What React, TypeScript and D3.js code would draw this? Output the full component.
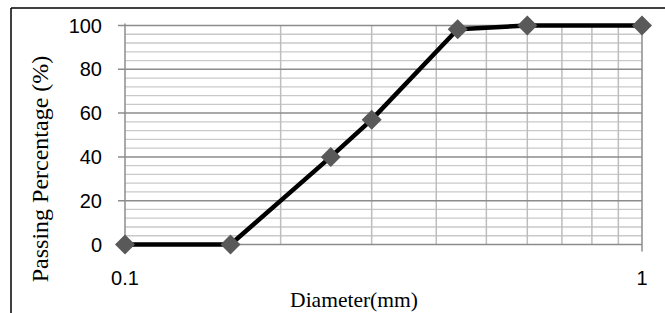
import { useEffect, useRef } from "react"
import * as d3 from "d3"

// Sieve analysis data
const diameters = [0.1, 0.16, 0.25, 0.3, 0.44, 0.6, 1]
const passing = [0, 0, 40, 57, 98.3, 100, 100]
const yTicks = [0, 20, 40, 60, 80, 100]
const xTickLabels = [0.1, 1]

export default function App() {
  const svgRef = useRef<SVGSVGElement>(null)

  useEffect(() => {
    if (!svgRef.current) return
    const W = 665
    const H = 313
    const margin = { top: 25.5, right: 23, bottom: 68.5, left: 125 }
    const width = W - margin.left - margin.right
    const height = H - margin.top - margin.bottom

    const root = d3.select(svgRef.current)
    root.selectAll("*").remove()
    root.attr("width", W).attr("height", H)

    // Outer frame (left and top edges only visible)
    root.append("line").attr("x1", 11).attr("x2", 11).attr("y1", 8).attr("y2", H).attr("stroke", "#000").attr("stroke-width", 1.5)
    root.append("line").attr("x1", 11).attr("x2", W).attr("y1", 8).attr("y2", 8).attr("stroke", "#000").attr("stroke-width", 1.5)

    const g = root.append("g").attr("transform", `translate(${margin.left},${margin.top})`)

    const x = d3.scaleLog().domain([0.1, 1]).range([0, width])
    const y = d3.scaleLinear().domain([0, 100]).range([height, 0])

    // Minor horizontal gridlines
    g.selectAll(".hminor")
      .data(d3.range(0, 101, 4).filter((v) => v % 20 !== 0))
      .join("line")
      .attr("x1", 0)
      .attr("x2", width)
      .attr("y1", (d) => y(d))
      .attr("y2", (d) => y(d))
      .attr("stroke", "#c9c9c9")
      .attr("stroke-width", 1.3)

    // Vertical gridlines
    g.selectAll(".vgrid")
      .data(x.ticks().filter((v) => v > 0.1 + 1e-9 && v < 1 - 1e-9))
      .join("line")
      .attr("x1", (d) => x(d))
      .attr("x2", (d) => x(d))
      .attr("y1", 0)
      .attr("y2", height)
      .attr("stroke", "#bdbdbd")
      .attr("stroke-width", 1.5)

    // Major horizontal gridlines
    g.selectAll(".hmajor")
      .data(yTicks.filter((v) => v > 0))
      .join("line")
      .attr("x1", -7)
      .attr("x2", width)
      .attr("y1", (d) => y(d))
      .attr("y2", (d) => y(d))
      .attr("stroke", "#8c8c8c")
      .attr("stroke-width", 1.5)

    // Axes lines
    g.append("line").attr("x1", -7).attr("x2", width).attr("y1", height).attr("y2", height).attr("stroke", "#8c8c8c").attr("stroke-width", 1.5)
    g.append("line").attr("x1", 0).attr("x2", 0).attr("y1", -2).attr("y2", height + 7).attr("stroke", "#8c8c8c").attr("stroke-width", 1.5)
    g.append("line").attr("x1", width).attr("x2", width).attr("y1", 0).attr("y2", height + 7).attr("stroke", "#8c8c8c").attr("stroke-width", 1.5)

    // Y tick labels
    g.selectAll(".ylab")
      .data(yTicks)
      .join("text")
      .attr("x", -23)
      .attr("y", (d) => y(d))
      .attr("text-anchor", "end")
      .attr("dominant-baseline", "central")
      .style("font-family", "'Liberation Sans', Arial, sans-serif")
      .style("font-size", "20px")
      .attr("fill", "#000")
      .text((d) => d)

    // X tick labels
    g.selectAll(".xlab")
      .data(xTickLabels)
      .join("text")
      .attr("x", (d) => x(d))
      .attr("y", height + 33)
      .attr("text-anchor", "middle")
      .attr("dominant-baseline", "central")
      .style("font-family", "'Liberation Sans', Arial, sans-serif")
      .style("font-size", "20px")
      .attr("fill", "#000")
      .text((d) => d)

    // Data line
    const pts = diameters.map((d, i) => [d, passing[i]] as [number, number])
    g.append("path")
      .datum(pts)
      .attr("d", d3.line<[number, number]>().x((d) => x(d[0])).y((d) => y(d[1])))
      .attr("fill", "none")
      .attr("stroke", "#000")
      .attr("stroke-width", 4.5)
      .attr("stroke-linejoin", "round")

    // Diamond markers
    const s = 10
    g.selectAll(".marker")
      .data(pts)
      .join("path")
      .attr("transform", (d) => `translate(${x(d[0])},${y(d[1])})`)
      .attr("d", `M0,${-s}L${s},0L0,${s}L${-s},0Z`)
      .attr("fill", "#595959")

    // Axis titles
    root.append("text")
      .attr("x", 354)
      .attr("y", 307)
      .attr("text-anchor", "middle")
      .style("font-family", "'Liberation Serif', 'Times New Roman', serif")
      .style("font-size", "21.5px")
      .attr("fill", "#000")
      .text("Diameter(mm)")

    root.append("text")
      .attr("transform", "translate(48,169) rotate(-90)")
      .attr("text-anchor", "middle")
      .style("font-family", "'Liberation Serif', 'Times New Roman', serif")
      .style("font-size", "24px")
      .attr("fill", "#000")
      .text("Passing Percentage (%)")
  }, [])

  return (
    <div style={{ position: "absolute", left: 0, top: 0, background: "#fff" }}>
      <svg ref={svgRef} style={{ display: "block" }}></svg>
    </div>
  )
}
